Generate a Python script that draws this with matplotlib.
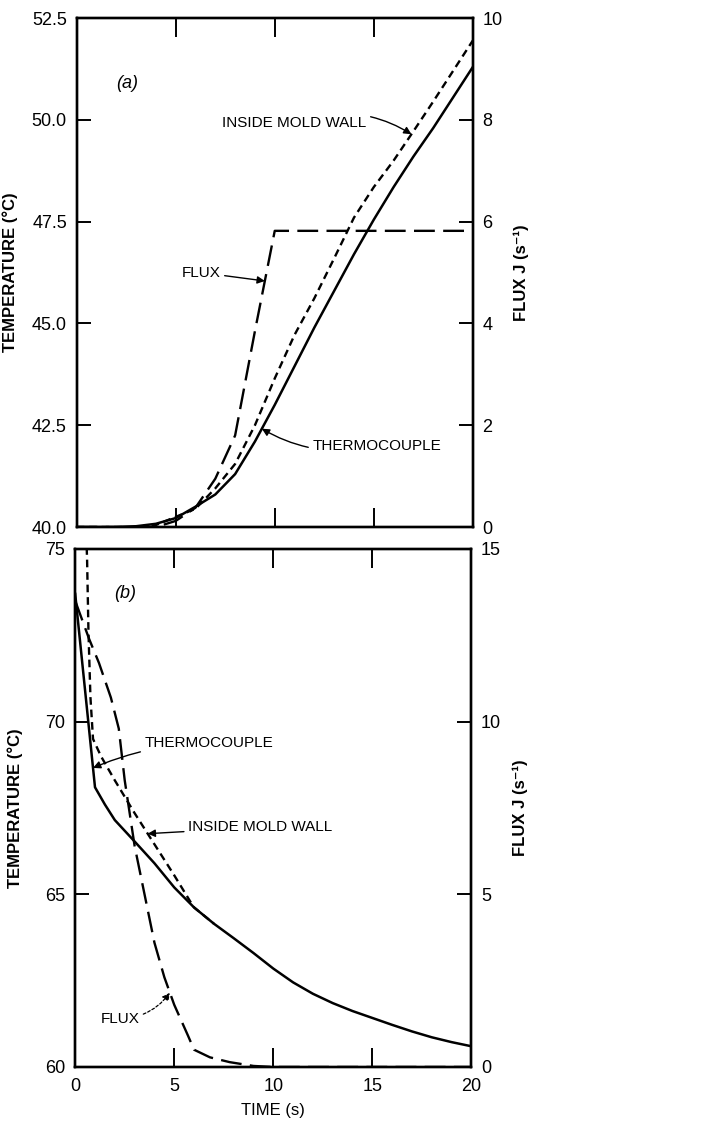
import numpy as np
import matplotlib
matplotlib.use('Agg')
import matplotlib.pyplot as plt
from matplotlib.ticker import FormatStrFormatter

plt.rcParams['font.family'] = ['Liberation Sans', 'DejaVu Sans']
plt.rcParams['lines.scale_dashes'] = False

# (a) heating, temperatures in deg C, flux in 1/s
time_a = [0, 1, 2, 3, 4, 5, 6, 7, 8, 9, 10, 11, 12, 13, 14, 15, 16, 17, 18, 19, 20]
thermo_a = [40.0, 40.0, 40.0, 40.02, 40.08, 40.22, 40.5, 40.8, 41.3, 42.1, 43.0,
            43.95, 44.9, 45.8, 46.7, 47.55, 48.35, 49.1, 49.8, 50.55, 51.3]
wall_a = [40.0, 40.0, 40.0, 40.0, 40.05, 40.25, 40.45, 40.95, 41.55, 42.5, 43.65,
          44.72, 45.62, 46.6, 47.6, 48.35, 49.0, 49.72, 50.45, 51.2, 51.95]
time_flux_a = [0, 4, 5, 6, 7, 8, 9, 10, 20]
flux_a = [0, 0, 0.12, 0.38, 0.95, 1.8, 3.85, 5.82, 5.82]

# (b) cooling
time_b = [0, 1.0, 1.5, 2, 3, 4, 5, 6, 7, 8, 9, 10, 11, 12, 13, 14, 15, 16, 17, 18, 19, 20]
thermo_b = [73.7, 68.1, 67.6, 67.15, 66.53, 65.9, 65.2, 64.62, 64.15, 63.73, 63.3, 62.85,
            62.45, 62.12, 61.85, 61.62, 61.42, 61.22, 61.03, 60.86, 60.72, 60.6]
time_wall_b = [0.5, 0.6, 0.67, 0.77, 0.9, 1.3, 2, 3, 4, 5, 5.8, 6, 7]
wall_b = [76.5, 74.7, 72.6, 70.7, 69.5, 69.0, 68.3, 67.35, 66.45, 65.55, 64.8, 64.62, 64.15]
time_flux_b = [0, 0.7, 1.2, 1.8, 2.2, 2.5, 3.0, 3.5, 4.0, 4.5, 5.0, 5.7, 6.0, 6.8, 7.8, 9, 10, 20]
flux_b = [13.5, 12.4, 11.7, 10.7, 9.8, 8.3, 6.4, 5.0, 3.6, 2.6, 1.8, 0.9, 0.5, 0.28, 0.14, 0.03, 0, 0]

short_dash = (0, (5.5, 3.5))
long_dash = (0, (15, 6))
note_size = 11

fig = plt.figure(figsize=(7.23, 11.31), dpi=100)
ax1 = fig.add_axes([0.106, 0.534, 0.548, 0.450])
ax2 = fig.add_axes([0.104, 0.0566, 0.548, 0.458])
ax1r = ax1.twinx()
ax2r = ax2.twinx()


def style(ax, axr):
    for a in (ax, axr):
        for sp in a.spines.values():
            sp.set_linewidth(1.7)
    ax.tick_params(axis='x', direction='in', length=14, width=1.4,
                   top=True, bottom=True, labelsize=13, pad=8)
    ax.tick_params(axis='y', direction='in', length=10, width=1.4,
                   labelsize=13, pad=7)
    axr.tick_params(axis='y', direction='in', length=10, width=1.4,
                    labelsize=13, pad=7)
    ax.set_xlim(0, 20)


# ---- panel (a)
ax1.plot(time_a, thermo_a, color='k', lw=1.8)
ax1.plot(time_a, wall_a, color='k', lw=1.7, linestyle=short_dash)
ax1r.plot(time_flux_a, flux_a, color='k', lw=1.7, linestyle=long_dash)
style(ax1, ax1r)
ax1.set_ylim(40, 52.5)
ax1.set_yticks([40, 42.5, 45, 47.5, 50, 52.5])
ax1.yaxis.set_major_formatter(FormatStrFormatter('%.1f'))
ax1r.set_ylim(0, 10)
ax1r.set_yticks([0, 2, 4, 6, 8, 10])
ax1.set_xticks([5, 10, 15])
ax1.tick_params(axis='x', labelbottom=False)

ax1.text(2.55, 50.9, '(a)', fontsize=13, style='italic', ha='center', va='center')
ax1.annotate('INSIDE MOLD WALL', xy=(16.9, np.interp(16.9, time_a, wall_a)),
             xytext=(7.35, 49.92), fontsize=note_size, va='center',
             arrowprops=dict(arrowstyle='-|>', color='k', lw=1.0,
                             connectionstyle='arc3,rad=-0.25', shrinkA=1, shrinkB=0))
ax1.annotate('THERMOCOUPLE', xy=(9.35, np.interp(9.35, time_a, thermo_a)),
             xytext=(11.9, 41.98), fontsize=note_size, va='center',
             arrowprops=dict(arrowstyle='-|>', color='k', lw=1.0,
                             connectionstyle='arc3,rad=-0.2', shrinkA=1, shrinkB=0))
ax1r.annotate('FLUX', xy=(9.5, np.interp(9.5, time_flux_a, flux_a)),
              xytext=(5.3, 5.0), fontsize=note_size, va='center',
              arrowprops=dict(arrowstyle='-|>', color='k', lw=1.0,
                              shrinkA=1, shrinkB=0))

ax1.set_ylabel('TEMPERATURE (°C)', fontsize=12, fontweight='bold', labelpad=10)
ax1r.set_ylabel('FLUX J (s⁻¹)', fontsize=12, fontweight='bold', labelpad=8)

# ---- panel (b)
ax2.plot(time_b, thermo_b, color='k', lw=1.8)
ax2.plot(time_wall_b, wall_b, color='k', lw=1.7, linestyle=short_dash)
ax2r.plot(time_flux_b, flux_b, color='k', lw=1.7, linestyle=long_dash)
style(ax2, ax2r)
ax2.set_ylim(60, 75)
ax2.set_yticks([60, 65, 70, 75])
ax2r.set_ylim(0, 15)
ax2r.set_yticks([0, 5, 10, 15])
ax2.set_xticks([0, 5, 10, 15, 20])

ax2.text(2.5, 73.7, '(b)', fontsize=13, style='italic', ha='center', va='center')
ax2.annotate('THERMOCOUPLE', xy=(0.9, np.interp(0.9, time_b, thermo_b)),
             xytext=(3.5, 69.38), fontsize=note_size, va='center',
             arrowprops=dict(arrowstyle='-|>', color='k', lw=1.0,
                             connectionstyle='arc3,rad=0.1', shrinkA=1, shrinkB=0))
ax2.annotate('INSIDE MOLD WALL', xy=(3.66, np.interp(3.66, time_wall_b, wall_b)),
             xytext=(5.7, 66.94), fontsize=note_size, va='center',
             arrowprops=dict(arrowstyle='-|>', color='k', lw=1.0,
                             shrinkA=1, shrinkB=0))
ax2r.annotate('FLUX', xy=(4.78, np.interp(4.78, time_flux_b, flux_b)),
              xytext=(1.27, 1.4), fontsize=note_size, va='center',
              arrowprops=dict(arrowstyle='-|>', color='k', lw=0.9, linestyle=(0, (2, 1.5)),
                              connectionstyle='arc3,rad=0.25', shrinkA=1, shrinkB=0))

ax2.set_ylabel('TEMPERATURE (°C)', fontsize=12, fontweight='bold', labelpad=16)
ax2r.set_ylabel('FLUX J (s⁻¹)', fontsize=12, fontweight='bold', labelpad=8)
ax2.set_xlabel('TIME (s)', fontsize=12, labelpad=6)

fig.savefig('out.png', dpi=100)
